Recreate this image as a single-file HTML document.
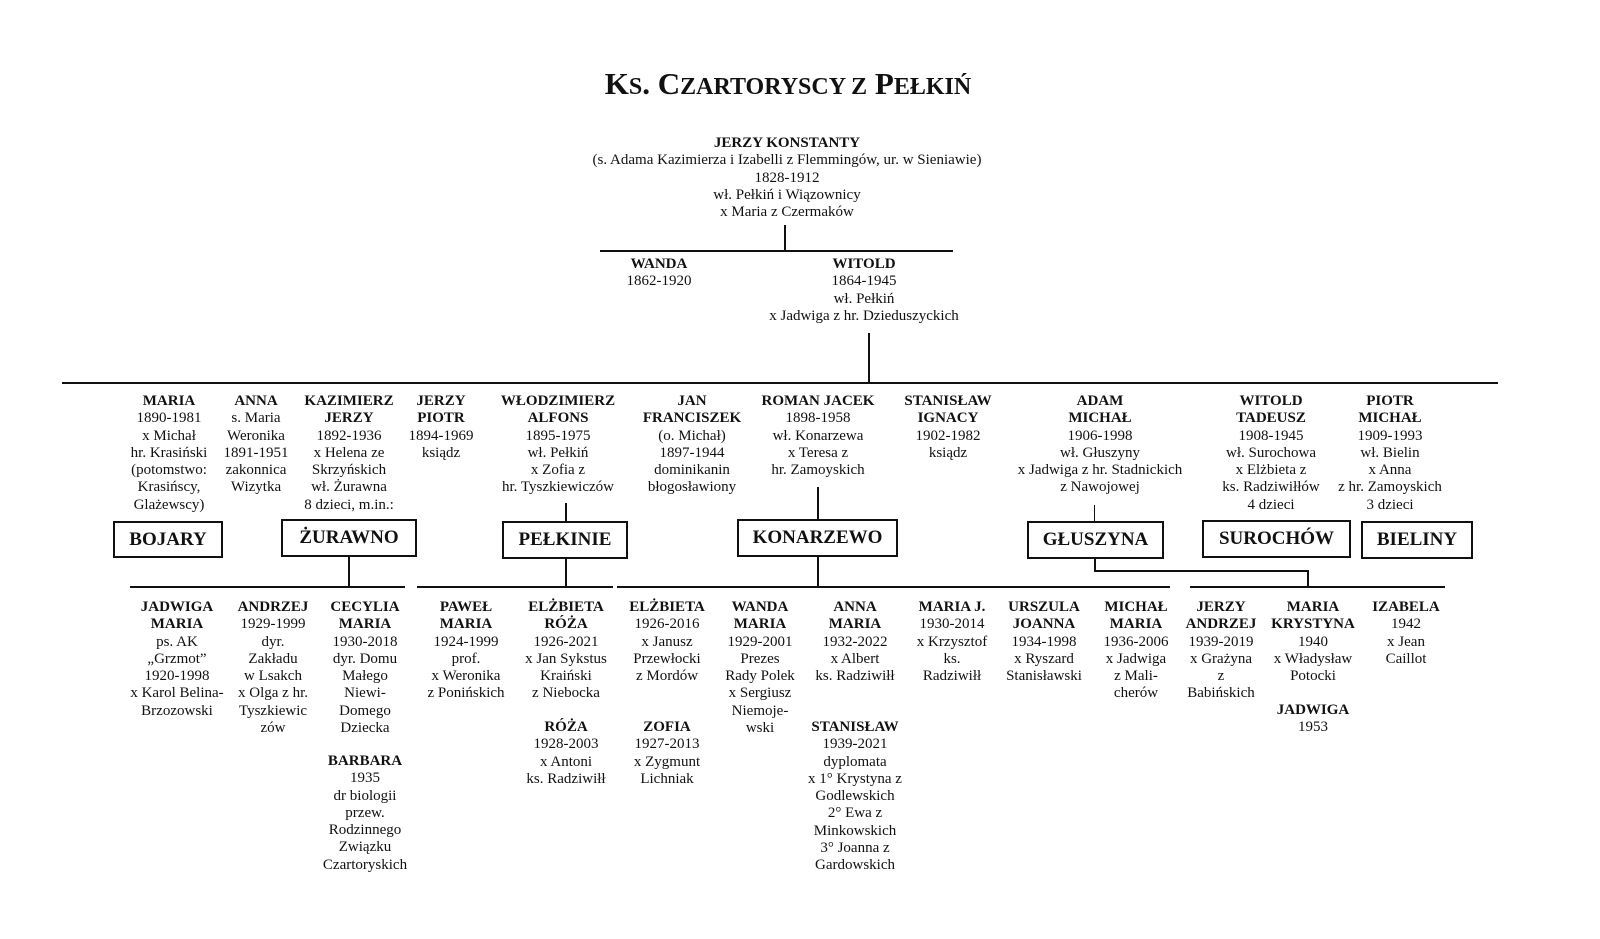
<!DOCTYPE html>
<html><head><meta charset="utf-8"><style>
body{margin:0;background:#fff;}
#c{position:relative;width:1600px;height:939px;overflow:hidden;font-family:"Liberation Serif",serif;color:#111;font-size:15px;line-height:17.3px}
.t{position:absolute;transform:translateX(-50%);text-align:center;white-space:nowrap}
.b{font-weight:bold}
.l{position:absolute;background:#111}
.bx{position:absolute;border:2px solid #111;box-sizing:border-box;font-weight:bold;font-size:19px;display:flex;align-items:center;justify-content:center}
</style></head><body><div id="c">
<div class="t b" style="left:788px;top:66px;font-size:31px;line-height:36px">K<span style="font-size:24px">S</span>. C<span style="font-size:24px">ZARTORYSCY Z</span> P<span style="font-size:24px">EŁKIŃ</span></div>

<div class="t" style="left:787px;top:135px"><b>JERZY KONSTANTY</b><br>(s. Adama Kazimierza i Izabelli z Flemmingów, ur. w Sieniawie)<br>1828-1912<br>wł. Pełkiń i Wiązownicy<br>x Maria z Czermaków</div>
<div class="l" style="left:784px;top:225px;width:2px;height:26px"></div>
<div class="l" style="left:600px;top:250px;width:353px;height:2px"></div>
<div class="t" style="left:659px;top:256px"><b>WANDA</b><br>1862-1920</div>
<div class="t" style="left:864px;top:256px"><b>WITOLD</b><br>1864-1945<br>wł. Pełkiń<br>x Jadwiga z hr. Dzieduszyckich</div>
<div class="l" style="left:868px;top:333px;width:2px;height:50px"></div>
<div class="l" style="left:62px;top:382px;width:1436px;height:2px"></div>

<div class="t" style="left:169px;top:393px"><b>MARIA</b><br>1890-1981<br>x Michał<br>hr. Krasiński<br>(potomstwo:<br>Krasińscy,<br>Glażewscy)</div>
<div class="t" style="left:256px;top:393px"><b>ANNA</b><br>s. Maria<br>Weronika<br>1891-1951<br>zakonnica<br>Wizytka</div>
<div class="t" style="left:349px;top:393px"><b>KAZIMIERZ<br>JERZY</b><br>1892-1936<br>x Helena ze<br>Skrzyńskich<br>wł. Żurawna<br>8 dzieci, m.in.:</div>
<div class="t" style="left:441px;top:393px"><b>JERZY<br>PIOTR</b><br>1894-1969<br>ksiądz</div>
<div class="t" style="left:558px;top:393px"><b>WŁODZIMIERZ<br>ALFONS</b><br>1895-1975<br>wł. Pełkiń<br>x Zofia z<br>hr. Tyszkiewiczów</div>
<div class="t" style="left:692px;top:393px"><b>JAN<br>FRANCISZEK</b><br>(o. Michał)<br>1897-1944<br>dominikanin<br>błogosławiony</div>
<div class="t" style="left:818px;top:393px"><b>ROMAN JACEK</b><br>1898-1958<br>wł. Konarzewa<br>x Teresa z<br>hr. Zamoyskich</div>
<div class="t" style="left:948px;top:393px"><b>STANISŁAW<br>IGNACY</b><br>1902-1982<br>ksiądz</div>
<div class="t" style="left:1100px;top:393px"><b>ADAM<br>MICHAŁ</b><br>1906-1998<br>wł. Głuszyny<br>x Jadwiga z hr. Stadnickich<br>z Nawojowej</div>
<div class="t" style="left:1271px;top:393px"><b>WITOLD<br>TADEUSZ</b><br>1908-1945<br>wł. Surochowa<br>x Elżbieta z<br>ks. Radziwiłłów<br>4 dzieci</div>
<div class="t" style="left:1390px;top:393px"><b>PIOTR<br>MICHAŁ</b><br>1909-1993<br>wł. Bielin<br>x Anna<br>z hr. Zamoyskich<br>3 dzieci</div>

<div class="bx" style="left:113px;top:521px;width:110px;height:37px">BOJARY</div>
<div class="bx" style="left:281px;top:519px;width:136px;height:38px">ŻURAWNO</div>
<div class="bx" style="left:502px;top:521px;width:126px;height:38px">PEŁKINIE</div>
<div class="bx" style="left:737px;top:519px;width:161px;height:38px">KONARZEWO</div>
<div class="bx" style="left:1027px;top:521px;width:137px;height:38px">GŁUSZYNA</div>
<div class="bx" style="left:1202px;top:520px;width:149px;height:38px">SUROCHÓW</div>
<div class="bx" style="left:1361px;top:521px;width:112px;height:38px">BIELINY</div>

<div class="l" style="left:565px;top:503px;width:2px;height:18px"></div>
<div class="l" style="left:817px;top:487px;width:2px;height:32px"></div>
<div class="l" style="left:1094px;top:505px;width:1px;height:16px"></div>
<div class="l" style="left:348px;top:557px;width:2px;height:30px"></div>
<div class="l" style="left:565px;top:559px;width:2px;height:28px"></div>
<div class="l" style="left:817px;top:557px;width:2px;height:30px"></div>
<div class="l" style="left:1094px;top:559px;width:2px;height:12px"></div>
<div class="l" style="left:1094px;top:570px;width:215px;height:2px"></div>
<div class="l" style="left:1307px;top:570px;width:2px;height:17px"></div>
<div class="l" style="left:130px;top:586px;width:275px;height:2px"></div>
<div class="l" style="left:417px;top:586px;width:196px;height:2px"></div>
<div class="l" style="left:617px;top:586px;width:553px;height:2px"></div>
<div class="l" style="left:1190px;top:586px;width:255px;height:2px"></div>

<div class="t" style="left:177px;top:599px"><b>JADWIGA<br>MARIA</b><br>ps. AK<br>„Grzmot”<br>1920-1998<br>x Karol Belina-<br>Brzozowski</div>
<div class="t" style="left:273px;top:599px"><b>ANDRZEJ</b><br>1929-1999<br>dyr.<br>Zakładu<br>w Lsakch<br>x Olga z hr.<br>Tyszkiewic<br>zów</div>
<div class="t" style="left:365px;top:599px"><b>CECYLIA<br>MARIA</b><br>1930-2018<br>dyr. Domu<br>Małego<br>Niewi-<br>Domego<br>Dziecka</div>
<div class="t" style="left:365px;top:753px"><b>BARBARA</b><br>1935<br>dr biologii<br>przew.<br>Rodzinnego<br>Związku<br>Czartoryskich</div>
<div class="t" style="left:466px;top:599px"><b>PAWEŁ<br>MARIA</b><br>1924-1999<br>prof.<br>x Weronika<br>z Ponińskich</div>
<div class="t" style="left:566px;top:599px"><b>ELŻBIETA<br>RÓŻA</b><br>1926-2021<br>x Jan Sykstus<br>Kraiński<br>z Niebocka</div>
<div class="t" style="left:566px;top:719px"><b>RÓŻA</b><br>1928-2003<br>x Antoni<br>ks. Radziwiłł</div>
<div class="t" style="left:667px;top:599px"><b>ELŻBIETA</b><br>1926-2016<br>x Janusz<br>Przewłocki<br>z Mordów</div>
<div class="t" style="left:667px;top:719px"><b>ZOFIA</b><br>1927-2013<br>x Zygmunt<br>Lichniak</div>
<div class="t" style="left:760px;top:599px"><b>WANDA<br>MARIA</b><br>1929-2001<br>Prezes<br>Rady Polek<br>x Sergiusz<br>Niemoje-<br>wski</div>
<div class="t" style="left:855px;top:599px"><b>ANNA<br>MARIA</b><br>1932-2022<br>x Albert<br>ks. Radziwiłł</div>
<div class="t" style="left:855px;top:719px"><b>STANISŁAW</b><br>1939-2021<br>dyplomata<br>x 1° Krystyna z<br>Godlewskich<br>2° Ewa z<br>Minkowskich<br>3° Joanna z<br>Gardowskich</div>
<div class="t" style="left:952px;top:599px"><b>MARIA J.</b><br>1930-2014<br>x Krzysztof<br>ks.<br>Radziwiłł</div>
<div class="t" style="left:1044px;top:599px"><b>URSZULA<br>JOANNA</b><br>1934-1998<br>x Ryszard<br>Stanisławski</div>
<div class="t" style="left:1136px;top:599px"><b>MICHAŁ<br>MARIA</b><br>1936-2006<br>x Jadwiga<br>z Mali-<br>cherów</div>
<div class="t" style="left:1221px;top:599px"><b>JERZY<br>ANDRZEJ</b><br>1939-2019<br>x Grażyna<br>z<br>Babińskich</div>
<div class="t" style="left:1313px;top:599px"><b>MARIA<br>KRYSTYNA</b><br>1940<br>x Władysław<br>Potocki</div>
<div class="t" style="left:1313px;top:702px"><b>JADWIGA</b><br>1953</div>
<div class="t" style="left:1406px;top:599px"><b>IZABELA</b><br>1942<br>x Jean<br>Caillot</div>
</div></body></html>
